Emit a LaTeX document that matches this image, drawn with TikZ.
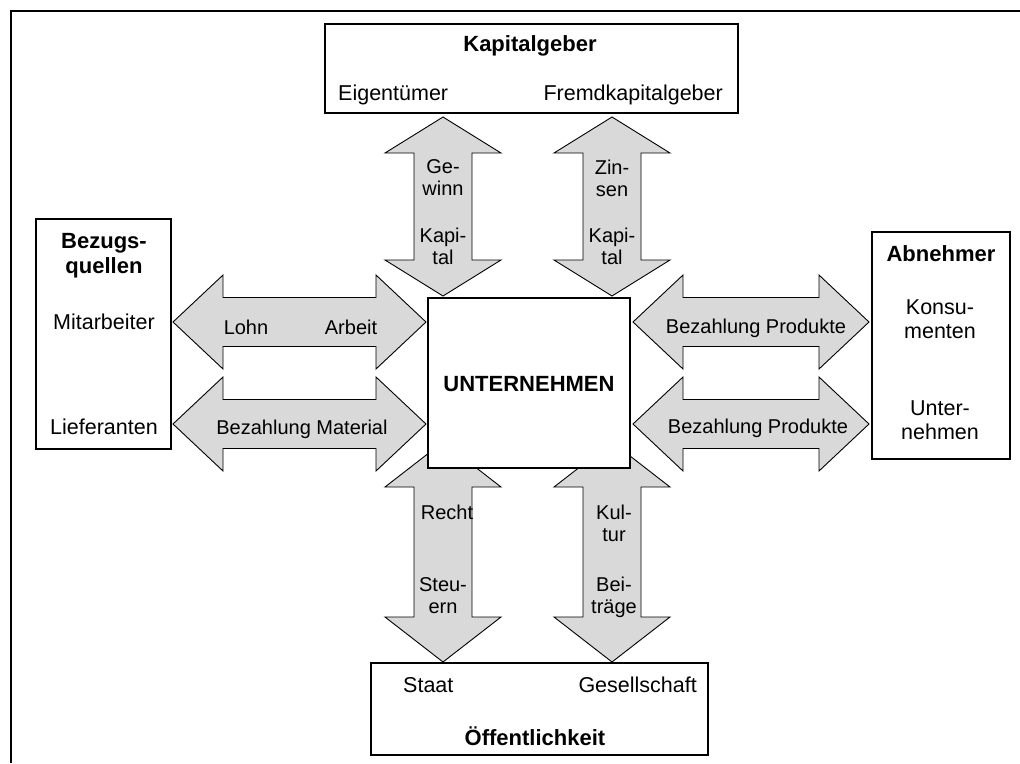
\documentclass[tikz,border=0pt]{standalone}
\usepackage{fontspec}
\setmainfont{Liberation Sans}
\definecolor{arrowgray}{RGB}{217,217,217}
% double-headed block arrow, horizontal: x1, x2, y centre
\newcommand\hdarrow[3]{%
  \filldraw[flow] (#1,#3) -- (#1+50,#3-47) -- (#1+50,#3-24.5) -- (#2-50,#3-24.5)
    -- (#2-50,#3-47) -- (#2,#3) -- (#2-50,#3+47) -- (#2-50,#3+24.5)
    -- (#1+50,#3+24.5) -- (#1+50,#3+47) -- cycle;}
% double-headed block arrow, vertical: x centre, top tip, bottom tip, top head, bottom head
\newcommand\vdarrow[5]{%
  \filldraw[flow] (#1,#2) -- (#1+58,#2+#4) -- (#1+29,#2+#4) -- (#1+29,#3-#5)
    -- (#1+58,#3-#5) -- (#1,#3) -- (#1-58,#3-#5) -- (#1-29,#3-#5)
    -- (#1-29,#2+#4) -- (#1-58,#2+#4) -- cycle;}
\begin{document}
\begin{tikzpicture}[x=1pt,y=-1pt,
  flow/.style={draw=black, line width=0.9pt, fill=arrowgray, line join=miter},
  box/.style={draw=black, line width=1.6pt, fill=white, inner sep=0pt},
  lbl/.style={inner sep=0pt, align=center, font=\fontsize{20}{22}\selectfont,
    text height=14pt, text depth=0pt},
  btxt/.style={inner sep=0pt, align=center, font=\fontsize{21.5}{24}\selectfont,
    text height=15.5pt, text depth=0pt},
  head/.style={inner sep=0pt, align=center, font=\fontsize{22}{25}\selectfont\bfseries,
    text height=16pt, text depth=0pt}]
\useasboundingbox (0,0) rectangle (1020,763);

% outer frame (top and left edges)
\draw[line width=1.4pt] (1020,11) -- (11,11) -- (11,763);

% block arrows
\vdarrow{443}{117}{296}{36}{36}
\vdarrow{612}{117}{296}{36}{36}
\vdarrow{443}{442}{662}{45}{45}
\vdarrow{612}{442}{662}{45}{45}
\hdarrow{173}{426}{322}
\hdarrow{173}{426}{424}
\hdarrow{633}{869}{322}
\hdarrow{633}{869}{424}

% boxes
\node[box, minimum width=413pt, minimum height=89pt] (kap) at (531.5,68.5) {};
\node[box, minimum width=135pt, minimum height=230pt] (bez) at (103.5,334) {};
\node[box, minimum width=138pt, minimum height=227pt] (abn) at (941,345.5) {};
\node[box, minimum width=202pt, minimum height=170pt] (unt) at (529,383) {};
\node[box, minimum width=337pt, minimum height=92pt] (oef) at (539.5,709) {};

% box texts
\node[head] (kapT) at (530,43) {Kapitalgeber};
\node[btxt, anchor=west] (eig) at (338,93) {Eigentümer};
\node[btxt, anchor=east] (fremd) at (723,93) {Fremdkapitalgeber};
\node[head] (bezT) at (104,265) {Bezugs-\\quellen};
\node[btxt] (mit) at (104,322) {Mitarbeiter};
\node[btxt] (lief) at (104,427) {Lieferanten};
\node[head] (abnT) at (941,253) {Abnehmer};
\node[btxt] (kons) at (940,331) {Konsu-\\menten};
\node[btxt] (untn) at (940,432) {Unter-\\nehmen};
\node[head] (untT) at (529,383) {UNTERNEHMEN};
\node[btxt, anchor=west] (staat) at (403,685) {Staat};
\node[btxt, anchor=east] (ges) at (697,685) {Gesellschaft};
\node[head] (oefT) at (535,737) {Öffentlichkeit};

% arrow labels
\node[lbl] (gew) at (443,188) {Ge-\\winn};
\node[lbl] (kap1) at (443,257) {Kapi-\\tal};
\node[lbl] (zin) at (612,189) {Zin-\\sen};
\node[lbl] (kap2) at (612,257) {Kapi-\\tal};
\node[lbl] (lohn) at (246,327) {Lohn};
\node[lbl] (arb) at (351,327) {Arbeit};
\node[lbl] (mat) at (302,427) {Bezahlung Material};
\node[lbl] (prod1) at (756,326) {Bezahlung Produkte};
\node[lbl] (prod2) at (758,426) {Bezahlung Produkte};
\node[lbl] (recht) at (447,512) {Recht};
\node[lbl] (steu) at (443,606) {Steu-\\ern};
\node[lbl] (kult) at (614,534) {Kul-\\tur};
\node[lbl] (beit) at (614,606) {Bei-\\träge};
\end{tikzpicture}
\end{document}
